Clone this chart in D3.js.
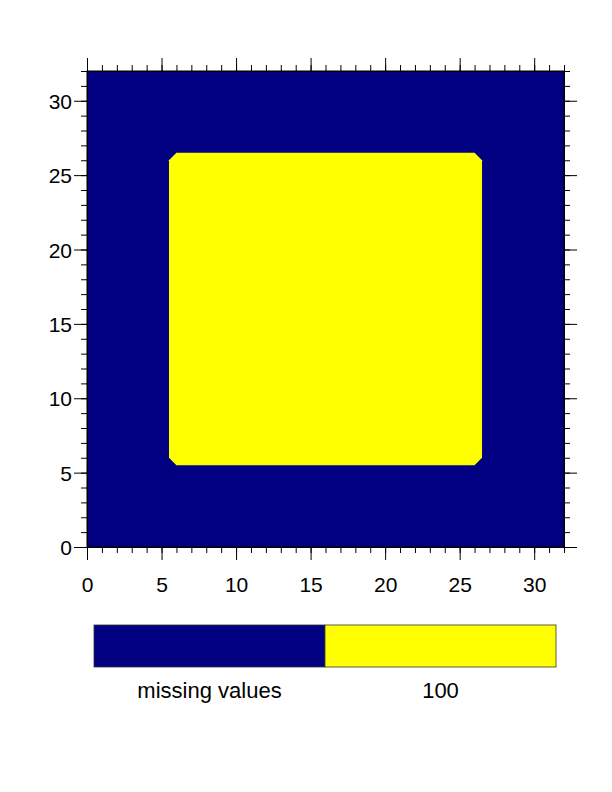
<!DOCTYPE html>
<html>
<head>
<meta charset="utf-8">
<script src="https://cdn.jsdelivr.net/npm/d3@7"></script>
<style>
  body { margin: 0; background: #fff; }
  text { font-family: "Liberation Sans", Arial, Helvetica, sans-serif; }
</style>
</head>
<body>
<div id="chart"></div>
<script>
// chart size
const width = 612
const height = 792

// axis ranges and ticks
const xDomain = [0, 32]
const yDomain = [0, 32]
const majorTicks = [0, 5, 10, 15, 20, 25, 30]
const minorTicks = d3.range(0, 33)

// filled contour of the 100 level, rest is missing
const contourX = [5.5, 6, 26, 26.5, 26.5, 26, 6, 5.5]
const contourY = [6, 5.5, 5.5, 6, 26, 26.5, 26.5, 26]

// colorbar
const barLabels = ["missing values", "100"]
const barColors = ["#000080", "#ffff00"]

var svg = d3.select("#chart")
            .append("svg")
            .attr("width", width)
            .attr("height", height)

var x = d3.scaleLinear().domain(xDomain).range([87, 564])
var y = d3.scaleLinear().domain(yDomain).range([547, 71])

// background = missing values
svg.append("rect")
   .attr("x", x(0))
   .attr("y", y(32))
   .attr("width", x(32) - x(0))
   .attr("height", y(0) - y(32))
   .attr("fill", barColors[0])

// contour fill
var pts = contourX.map(function(d, i) { return [x(d), y(contourY[i])] })
svg.append("path")
   .attr("d", d3.line()(pts) + "Z")
   .attr("fill", barColors[1])

// axes with outward ticks on all four sides
function addAxis(makeAxis, tx, ty, labels) {
  svg.append("g")
     .attr("transform", "translate(" + tx + "," + ty + ")")
     .call(makeAxis().tickValues(minorTicks).tickSize(6).tickFormat(""))
     .call(g => g.select(".domain").remove())
  var major = makeAxis().tickValues(majorTicks).tickSize(13).tickSizeOuter(0)
  if (!labels) major.tickFormat("")
  var g = svg.append("g")
     .attr("transform", "translate(" + tx + "," + ty + ")")
     .call(major)
  g.selectAll("text")
   .attr("font-size", 21)
   .attr("fill", "#000")
   .style("font-family", "'Liberation Sans', Arial, sans-serif")
  return g
}

var bottom = addAxis(() => d3.axisBottom(x), 0, 547, true)
bottom.selectAll("text").attr("dy", 0).attr("y", 45)
var left = addAxis(() => d3.axisLeft(y), 87, 0, true)
left.selectAll("text").attr("dy", "0.36em").attr("x", -15)
addAxis(() => d3.axisTop(x), 0, 71, false)
addAxis(() => d3.axisRight(y), 564, 0, false)

svg.selectAll(".domain").attr("stroke", "#000")
svg.selectAll(".tick line").attr("stroke", "#000")

// frame
svg.append("rect")
   .attr("x", x(0)).attr("y", y(32))
   .attr("width", x(32) - x(0)).attr("height", y(0) - y(32))
   .attr("fill", "none").attr("stroke", "#000").attr("stroke-width", 1)

// colorbar
var bx = d3.scaleBand().domain(barLabels).range([94, 556]).padding(0)
svg.selectAll(".box")
   .data(barLabels)
   .enter()
   .append("rect")
   .attr("x", d => bx(d))
   .attr("y", 625)
   .attr("width", bx.bandwidth())
   .attr("height", 42)
   .attr("fill", (d, i) => barColors[i])
   .attr("stroke", "#333")
   .attr("stroke-width", 0.8)

svg.selectAll(".blabel")
   .data(barLabels)
   .enter()
   .append("text")
   .attr("x", d => bx(d) + bx.bandwidth() / 2)
   .attr("y", 698)
   .attr("text-anchor", "middle")
   .attr("font-size", 22)
   .attr("fill", "#000")
   .text(d => d)
</script>
</body>
</html>
